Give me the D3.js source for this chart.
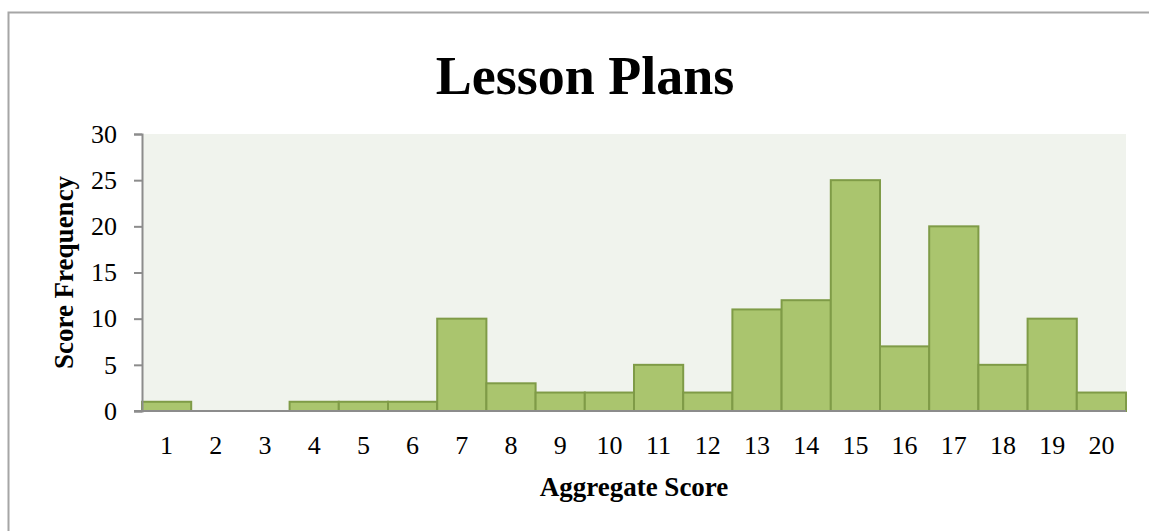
<!DOCTYPE html>
<html>
<head>
<meta charset="utf-8">
<script src="https://cdn.jsdelivr.net/npm/d3@7"></script>
<style>
  body { margin: 0; background: #fff; }
  svg { display: block; }
  text { font-family: "Liberation Serif", "Times New Roman", serif; fill: #000; }
</style>
</head>
<body>
<div class="chart"></div>
<script>
// chart data
var scores = ['1','2','3','4','5','6','7','8','9','10','11','12','13','14','15','16','17','18','19','20'];
var frequency = [1, 0, 0, 1, 1, 1, 10, 3, 2, 2, 5, 2, 11, 12, 25, 7, 20, 5, 10, 2];
var yTicks = [0, 5, 10, 15, 20, 25, 30];

var width = 1149, height = 531;
var margin = {top: 134, left: 142, right: 23, bottom: 120};

var svg = d3.select('.chart')
  .append('svg')
  .attr('width', width)
  .attr('height', height);

// outer chart border (runs off the right and bottom of the picture)
svg.append('rect')
  .attr('x', 8.5).attr('y', 12.5)
  .attr('width', width + 20).attr('height', height + 20)
  .attr('fill', 'none')
  .attr('stroke', '#a6a6a6')
  .attr('stroke-width', 2);

var x = d3.scaleBand()
  .domain(scores)
  .range([margin.left, width - margin.right])
  .padding(0);

var y = d3.scaleLinear()
  .domain([0, 30])
  .range([height - margin.bottom, margin.top]);

// plot area background
svg.append('rect')
  .attr('x', margin.left)
  .attr('y', margin.top)
  .attr('width', width - margin.right - margin.left)
  .attr('height', y(0) - margin.top)
  .attr('fill', '#f0f3ed');

// bars
svg.selectAll('.bar')
  .data(frequency)
  .enter().append('rect')
  .attr('class', 'bar')
  .attr('x', function(d, i) { return x(scores[i]); })
  .attr('y', function(d) { return y(d); })
  .attr('width', x.bandwidth())
  .attr('height', function(d) { return y(0) - y(d); })
  .attr('fill', '#aac56e')
  .attr('stroke', function(d) { return d > 0 ? '#7f9b47' : 'none'; })
  .attr('stroke-width', 2);

// y axis
var yAxis = svg.append('g')
  .attr('transform', 'translate(' + margin.left + ',0)')
  .call(d3.axisLeft(y).tickValues(yTicks).tickSize(8).tickPadding(17));
yAxis.attr('font-size', null).attr('font-family', null);
yAxis.select('.domain').attr('stroke', '#8c8c8c').attr('stroke-width', 2);
yAxis.selectAll('.tick line').attr('stroke', '#8c8c8c').attr('stroke-width', 2);
yAxis.selectAll('.tick text')
  .style('font-size', '26px')
  .attr('fill', '#000');

// x axis
var xAxis = svg.append('g')
  .attr('transform', 'translate(0,' + y(0) + ')')
  .call(d3.axisBottom(x).tickSize(0).tickPadding(25));
xAxis.attr('font-size', null).attr('font-family', null);
xAxis.select('.domain').remove();
xAxis.selectAll('.tick text')
  .style('font-size', '26px')
  .attr('fill', '#000');
svg.append('line')
  .attr('x1', margin.left - 8).attr('x2', width - margin.right)
  .attr('y1', y(0)).attr('y2', y(0))
  .attr('stroke', '#8c8c8c')
  .attr('stroke-width', 2);

// title
svg.append('text')
  .attr('x', 585).attr('y', 94)
  .attr('text-anchor', 'middle')
  .style('font-size', '54px')
  .style('font-weight', 'bold')
  .text('Lesson Plans');

// axis titles
svg.append('text')
  .attr('x', (margin.left + width - margin.right) / 2).attr('y', 496)
  .attr('text-anchor', 'middle')
  .style('font-size', '27px')
  .style('font-weight', 'bold')
  .text('Aggregate Score');

svg.append('text')
  .attr('transform', 'translate(73,' + ((margin.top + y(0)) / 2) + ') rotate(-90)')
  .attr('text-anchor', 'middle')
  .style('font-size', '27px')
  .style('font-weight', 'bold')
  .text('Score Frequency');
</script>
</body>
</html>
